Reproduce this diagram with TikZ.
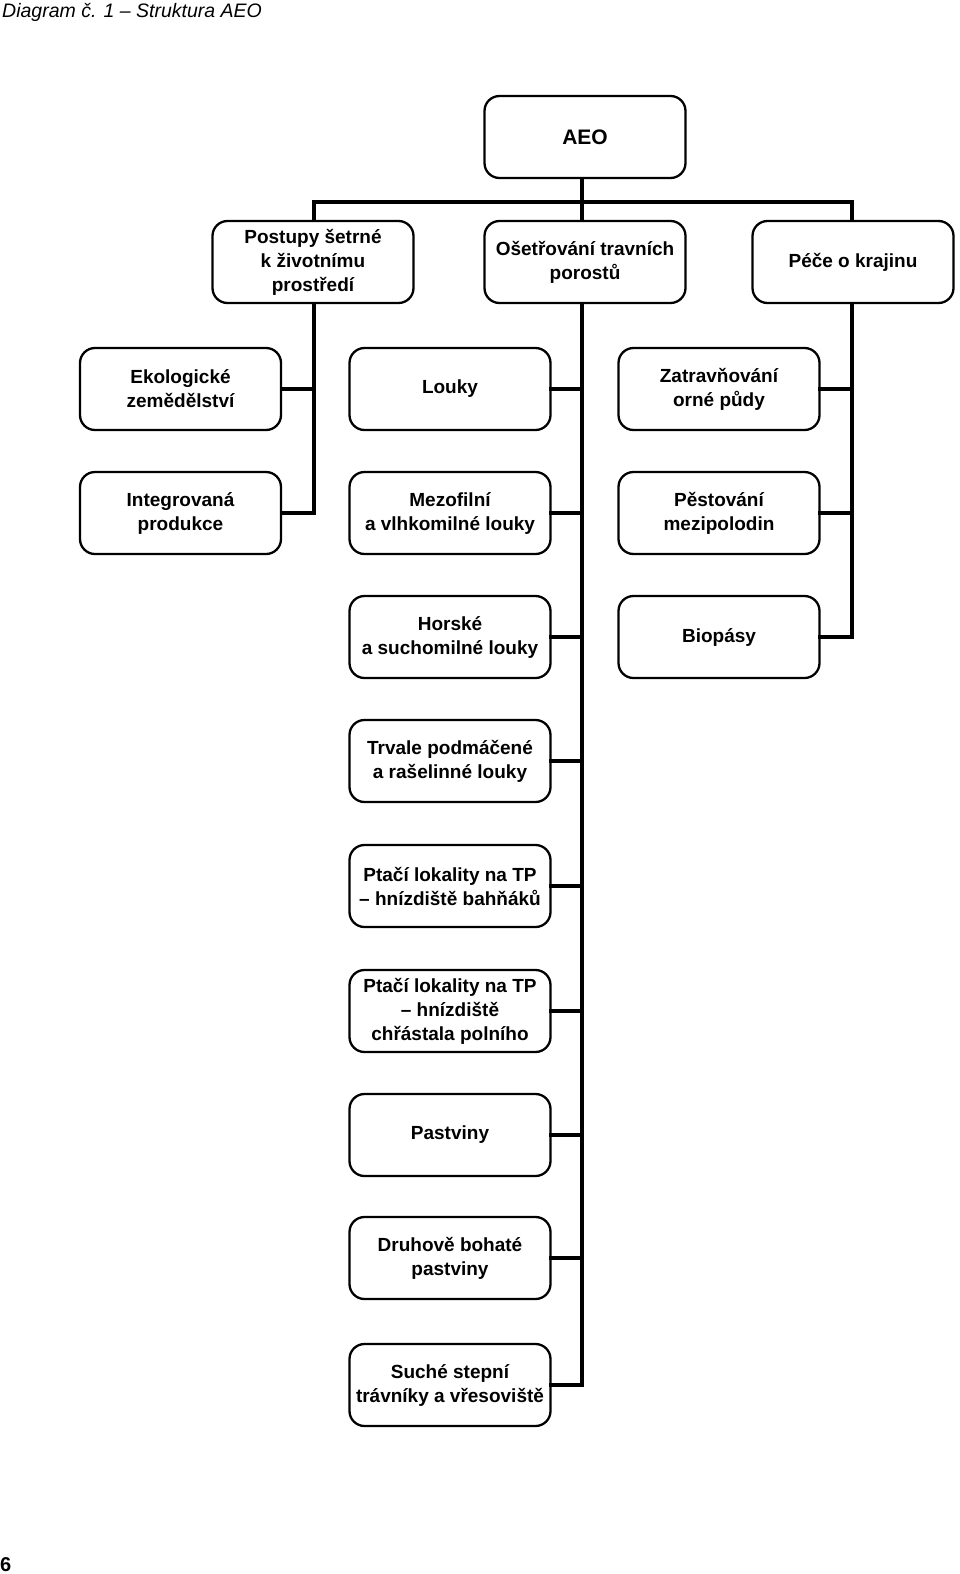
\documentclass[tikz,border=0pt]{standalone}
\usepackage{fontspec}
\newfontfamily\boxfont{Liberation Sans}
\newfontfamily\titlefont{Liberation Sans}
\begin{document}
\begin{tikzpicture}[x=1pt,y=-1pt,
  box/.style={draw,line width=2.3pt,rounded corners=15pt,minimum width=201pt,minimum height=82pt,
    align=center,inner sep=2pt,font=\boxfont\bfseries\fontsize{19}{24}\selectfont},
  conn/.style={line width=4.5pt,line join=miter,line cap=rect}]
\useasboundingbox (0,0) rectangle (960,1574);
\node[anchor=base west,inner sep=0pt,font=\titlefont\itshape\fontsize{19.5}{22}\selectfont] (title) at (2,17) {Diagram č. 1 – Struktura AEO};
\node[anchor=base west,inner sep=0pt,font=\boxfont\bfseries\fontsize{20}{22}\selectfont] (page) at (0,1571) {6};
% top
\node[box,font=\boxfont\bfseries\fontsize{21}{24}\selectfont] (aeo) at (585,137) {AEO};
\node[box] (p1) at (313,262) {Postupy šetrné\\k životnímu\\prostředí};
\node[box] (p2) at (585,262) {Ošetřování travních\\porostů};
\node[box] (p3) at (853,262) {Péče o krajinu};
% left column
\node[box] (l1) at (180.5,389) {Ekologické\\zemědělství};
\node[box] (l2) at (180.5,513) {Integrovaná\\produkce};
% middle column
\node[box] (m1) at (450,389) {Louky};
\node[box] (m2) at (450,513) {Mezofilní\\a vlhkomilné louky};
\node[box] (m3) at (450,637) {Horské\\a suchomilné louky};
\node[box] (m4) at (450,761) {Trvale podmáčené\\a rašelinné louky};
\node[box] (m5) at (450,886) {Ptačí lokality na TP\\– hnízdiště bahňáků};
\node[box] (m6) at (450,1011) {Ptačí lokality na TP\\– hnízdiště\\chřástala polního};
\node[box] (m7) at (450,1135) {Pastviny};
\node[box] (m8) at (450,1258) {Druhově bohaté\\pastviny};
\node[box] (m9) at (450,1385) {Suché stepní\\trávníky a vřesoviště};
% right column
\node[box] (r1) at (719,389) {Zatravňování\\orné půdy};
\node[box] (r2) at (719,513) {Pěstování\\mezipolodin};
\node[box] (r3) at (719,637) {Biopásy};
% trunk positions
\coordinate (lt) at (314,262);
\coordinate (mt) at (582,262);
\coordinate (rt) at (852,262);
\coordinate (bus) at (582,202);
% bus
\draw[conn] (aeo.south -| mt) -- (bus);
\draw[conn] (p1.north -| lt) |- (bus) -| (p3.north -| rt);
\draw[conn] (bus) -- (p2.north -| mt);
% left trunk
\draw[conn] (p1.south -| lt) |- (l2.east);
\draw[conn] (l1.east) -- (l1.east -| lt);
% middle trunk
\draw[conn] (p2.south -| mt) |- (m9.east);
\foreach \n in {m1,m2,m3,m4,m5,m6,m7,m8} {\draw[conn] (\n.east) -- (\n.east -| mt);}
% right trunk
\draw[conn] (p3.south -| rt) |- (r3.east);
\draw[conn] (r1.east) -- (r1.east -| rt);
\draw[conn] (r2.east) -- (r2.east -| rt);
\end{tikzpicture}
\end{document}
